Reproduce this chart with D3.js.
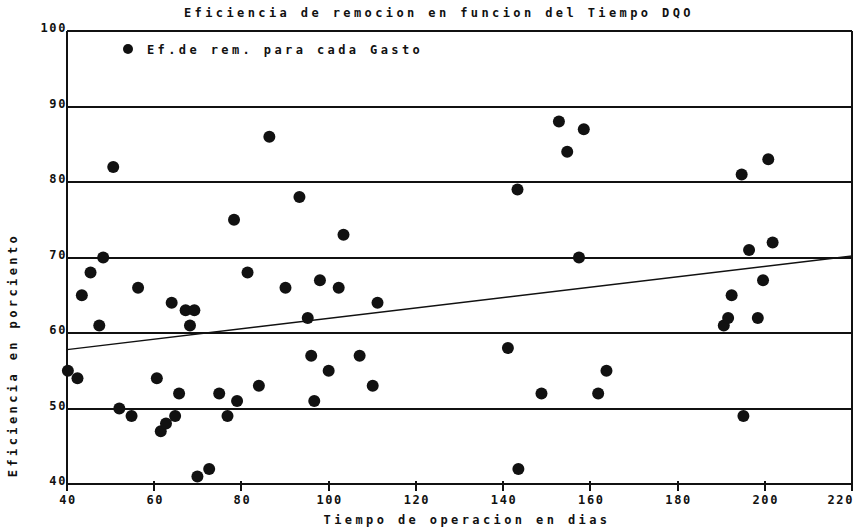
<!DOCTYPE html>
<meta charset="utf-8">
<title>Eficiencia de remocion en funcion del Tiempo DQO</title>
<style>

body {
  margin: 0;
  background: #fff;
}

.chart text {
  font-family: "DejaVu Sans Mono", monospace;
  font-weight: bold;
  font-size: 12px;
  fill: #111;
}

.title, .legend text, .axislabel {
  letter-spacing: 3.4px;
}

.tick-label {
  letter-spacing: 1.6px;
}

.grid line {
  stroke: #111;
  stroke-width: 2px;
  shape-rendering: crispEdges;
}

.frame line {
  stroke: #111;
  stroke-width: 2px;
  shape-rendering: crispEdges;
}

.fit {
  fill: none;
  stroke: #111;
  stroke-width: 1.4px;
}

.point {
  fill: #111;
}

</style>
<svg class="chart"></svg>
<script src="https://cdnjs.cloudflare.com/ajax/libs/d3/7.8.5/d3.min.js"></script>
<script>

// tiempo de operacion (dias) y eficiencia de remocion (%)
var dias = [40.2, 42.4, 43.4, 45.4, 47.4, 48.3, 50.6, 52.0, 54.8, 56.3,
            60.6, 61.5, 62.7, 64.0, 64.8, 65.7, 67.2, 68.2, 69.2, 69.9,
            72.6, 74.9, 76.8, 78.3, 79.0, 81.4, 84.0, 86.4, 90.1, 93.3,
            95.2, 96.0, 96.7, 98.0, 100.0, 102.3, 103.4, 107.1, 110.1, 111.2,
            141.1, 143.3, 143.5, 148.8, 152.8, 154.7, 157.4, 158.5, 161.8, 163.7,
            190.6, 191.6, 192.4, 194.7, 195.1, 196.4, 198.4, 199.6, 200.8, 201.8];

var eficiencia = [55, 54, 65, 68, 61, 70, 82, 50, 49, 66,
                  54, 47, 48, 64, 49, 52, 63, 61, 63, 41,
                  42, 52, 49, 75, 51, 68, 53, 86, 66, 78,
                  62, 57, 51, 67, 55, 66, 73, 57, 53, 64,
                  58, 79, 42, 52, 88, 84, 70, 87, 52, 55,
                  61, 62, 65, 81, 49, 71, 62, 67, 83, 72];

// recta de ajuste (extremos)
var ajusteX = [40, 220];
var ajusteY = [57.8, 70.2];

var xTicks = [40, 60, 80, 100, 120, 140, 160, 180, 200, 220];
var yTicks = [40, 50, 60, 70, 80, 90, 100];

var titulo = "Eficiencia de remocion en funcion del Tiempo DQO";
var leyenda = "Ef.de rem. para cada Gasto";
var xLabel = "Tiempo de operacion en dias";
var yLabel = "Eficiencia en porciento";

var totalWidth = 861,
    totalHeight = 529;

var margin = {top: 31, right: 9, bottom: 45, left: 67},
    width = totalWidth - margin.left - margin.right,
    height = totalHeight - margin.top - margin.bottom;

var x = d3.scaleLinear()
    .domain([40, 220])
    .range([0, width]);

var y = d3.scaleLinear()
    .domain([40, 100])
    .range([height, 0]);

var svg = d3.select(".chart")
    .attr("width", totalWidth)
    .attr("height", totalHeight);

var chart = svg.append("g")
    .attr("transform", "translate(" + margin.left + "," + margin.top + ")");

var data = dias.map(function(d, i) { return {dias: d, ef: eficiencia[i]}; });

// horizontal grid lines
chart.append("g")
    .attr("class", "grid")
    .selectAll("line")
    .data(yTicks)
    .enter().append("line")
    .attr("x1", 0)
    .attr("x2", width)
    .attr("y1", function(d) { return y(d); })
    .attr("y2", function(d) { return y(d); });

// frame: left axis and right border
var frame = chart.append("g").attr("class", "frame");
frame.append("line")
    .attr("x1", 0).attr("x2", 0)
    .attr("y1", 0).attr("y2", height);
frame.append("line")
    .attr("x1", width).attr("x2", width)
    .attr("y1", 0).attr("y2", height);

// x ticks
frame.selectAll(".xtick")
    .data(xTicks)
    .enter().append("line")
    .attr("class", "xtick")
    .attr("x1", function(d) { return x(d); })
    .attr("x2", function(d) { return x(d); })
    .attr("y1", height - 3)
    .attr("y2", height + 7);

// last label is pushed inside the page, as in the original
var lastTick = xTicks[xTicks.length - 1];
chart.selectAll(".xlab")
    .data(xTicks)
    .enter().append("text")
    .attr("class", "tick-label xlab")
    .attr("x", function(d) { return d === lastTick ? x(d) + 2 : x(d) + 1; })
    .attr("y", height + 20)
    .style("text-anchor", function(d) { return d === lastTick ? "end" : "middle"; })
    .text(function(d) { return d; });

chart.selectAll(".ylab")
    .data(yTicks)
    .enter().append("text")
    .attr("class", "tick-label ylab")
    .attr("x", 0)
    .attr("y", function(d) { return y(d) + 1; })
    .style("text-anchor", "end")
    .text(function(d) { return d; });

// fitted line
chart.append("path")
    .attr("class", "fit")
    .attr("d", d3.line()
        .x(function(d) { return x(d[0]); })
        .y(function(d) { return y(d[1]); })(ajusteX.map(function(d, i) { return [d, ajusteY[i]]; })));

// points
chart.selectAll(".point")
    .data(data)
    .enter().append("circle")
    .attr("class", "point")
    .attr("cx", function(d) { return x(d.dias); })
    .attr("cy", function(d) { return y(d.ef); })
    .attr("r", 6);

// legend
var legend = chart.append("g")
    .attr("class", "legend")
    .attr("transform", "translate(" + (128 - margin.left) + "," + (49 - margin.top) + ")");

legend.append("circle")
    .attr("class", "point")
    .attr("r", 5);

legend.append("text")
    .attr("x", 19)
    .attr("y", 5)
    .text(leyenda);

// title
svg.append("text")
    .attr("class", "title")
    .attr("x", 439)
    .attr("y", 17)
    .style("text-anchor", "middle")
    .text(titulo);

// text label for the x axis
svg.append("text")
    .attr("class", "axislabel")
    .attr("x", 467)
    .attr("y", 524)
    .style("text-anchor", "middle")
    .text(xLabel);

// text label for the y axis
svg.append("text")
    .attr("class", "axislabel")
    .attr("transform", "translate(17," + 355 + ") rotate(-90)")
    .style("text-anchor", "middle")
    .text(yLabel);

</script>
